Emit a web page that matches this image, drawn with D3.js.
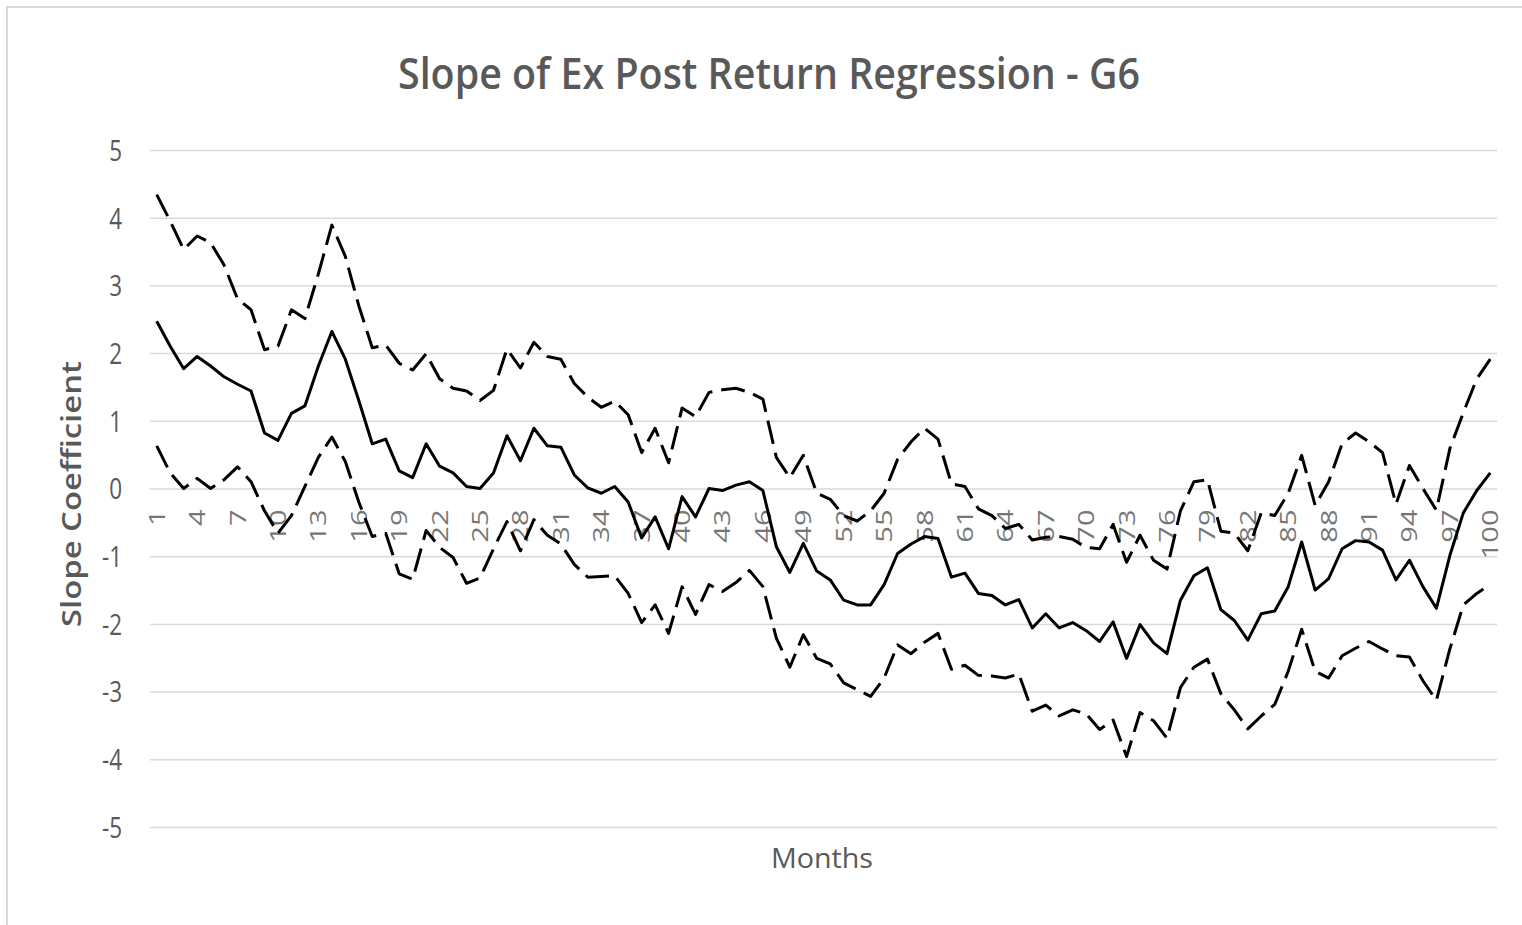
<!DOCTYPE html>
<html>
<head>
<meta charset="utf-8">
<script src="https://cdn.jsdelivr.net/npm/d3@7"></script>
<style>
  body { margin: 0; background: #fff; }
  svg { display: block; font-family: 'Open Sans', sans-serif; }
</style>
</head>
<body>
<svg id="chart" width="1522" height="925"></svg>
<script>
// months on the category axis
const months = d3.range(1, 101);
const tickMonths = months.filter(m => (m - 1) % 3 === 0);
const yTicks = [-5, -4, -3, -2, -1, 0, 1, 2, 3, 4, 5];

// slope estimate (solid)
const slope = [
  2.47, 2.10, 1.77, 1.95, 1.81, 1.65, 1.54, 1.44, 0.82, 0.71,
  1.11, 1.22, 1.81, 2.32, 1.91, 1.30, 0.66, 0.73, 0.26, 0.16,
  0.66, 0.33, 0.23, 0.03, 0.00, 0.23, 0.78, 0.41, 0.89, 0.63,
  0.61, 0.20, 0.01, -0.07, 0.03, -0.20, -0.73, -0.42, -0.89, -0.12,
  -0.42, 0.00, -0.03, 0.05, 0.10, -0.03, -0.86, -1.24, -0.81, -1.22,
  -1.35, -1.65, -1.72, -1.72, -1.42, -0.96, -0.82, -0.71, -0.74, -1.31,
  -1.25, -1.55, -1.58, -1.72, -1.64, -2.06, -1.85, -2.06, -1.98, -2.10,
  -2.26, -1.97, -2.51, -2.01, -2.28, -2.44, -1.65, -1.29, -1.17, -1.79,
  -1.95, -2.24, -1.85, -1.81, -1.45, -0.79, -1.50, -1.33, -0.89, -0.77,
  -0.79, -0.91, -1.35, -1.06, -1.45, -1.77, -0.99, -0.36, -0.03, 0.23
];

// upper band (dashed)
const upper = [
  4.34, 3.95, 3.53, 3.73, 3.63, 3.30, 2.80, 2.64, 2.05, 2.10,
  2.64, 2.51, 3.17, 3.89, 3.43, 2.70, 2.08, 2.12, 1.85, 1.75,
  1.99, 1.62, 1.48, 1.44, 1.30, 1.45, 2.06, 1.78, 2.16, 1.95,
  1.91, 1.55, 1.35, 1.20, 1.29, 1.09, 0.53, 0.89, 0.38, 1.19,
  1.06, 1.42, 1.46, 1.48, 1.42, 1.32, 0.46, 0.16, 0.49, -0.07,
  -0.16, -0.40, -0.48, -0.33, -0.07, 0.43, 0.69, 0.89, 0.73, 0.07,
  0.03, -0.30, -0.40, -0.59, -0.53, -0.76, -0.72, -0.71, -0.75, -0.87,
  -0.89, -0.53, -1.09, -0.69, -1.06, -1.19, -0.33, 0.10, 0.13, -0.63,
  -0.66, -0.92, -0.36, -0.40, -0.07, 0.49, -0.25, 0.10, 0.66, 0.82,
  0.69, 0.53, -0.23, 0.34, 0.00, -0.32, 0.59, 1.12, 1.62, 1.91
];

// lower band (dashed)
const lower = [
  0.63, 0.23, 0.00, 0.15, 0.00, 0.13, 0.32, 0.10, -0.33, -0.66,
  -0.40, 0.03, 0.46, 0.76, 0.40, -0.20, -0.71, -0.66, -1.26, -1.34,
  -0.62, -0.87, -1.02, -1.40, -1.32, -0.89, -0.49, -0.92, -0.46, -0.69,
  -0.82, -1.12, -1.31, -1.30, -1.29, -1.55, -1.98, -1.72, -2.14, -1.45,
  -1.86, -1.42, -1.52, -1.39, -1.21, -1.45, -2.21, -2.64, -2.16, -2.51,
  -2.59, -2.87, -2.97, -3.07, -2.80, -2.31, -2.44, -2.27, -2.14, -2.67,
  -2.61, -2.76, -2.77, -2.80, -2.74, -3.29, -3.20, -3.36, -3.27, -3.33,
  -3.56, -3.42, -3.96, -3.31, -3.43, -3.69, -2.94, -2.64, -2.52, -3.03,
  -3.27, -3.55, -3.36, -3.19, -2.70, -2.08, -2.70, -2.80, -2.47, -2.36,
  -2.26, -2.37, -2.47, -2.49, -2.84, -3.13, -2.37, -1.72, -1.55, -1.42
];

const svg = d3.select('#chart');
const margin = { left: 150, right: 25, top: 150, bottom: 98 },
  width = 1522 - margin.left - margin.right,
  height = 925 - margin.top - margin.bottom;

// outer chart border (only top/left visible in the crop)
svg.append('rect')
  .attr('x', 7).attr('y', 7)
  .attr('width', 1540).attr('height', 950)
  .attr('fill', 'none')
  .attr('stroke', '#d9d9d9')
  .attr('stroke-width', 2);

const g = svg.append('g')
  .attr('transform', `translate(${margin.left},${margin.top})`);

const x = d3.scalePoint()
  .domain(months)
  .range([0, width])
  .padding(0.5);

const y = d3.scaleLinear()
  .domain([-5, 5])
  .range([height, 0]);

// gridlines
const yAxis = g.append('g')
  .call(d3.axisLeft(y).tickValues(yTicks).tickSize(-width).tickFormat(''));
yAxis.select('.domain').remove();
yAxis.selectAll('.tick line')
  .attr('stroke', '#d9d9d9')
  .attr('stroke-width', 1.5);

// y labels, narrow like the source font
g.append('g').selectAll('text').data(yTicks)
  .enter().append('text')
    .attr('transform', d => `translate(-28,${y(d)}) scale(0.75,1)`)
    .attr('dy', '0.36em')
    .attr('text-anchor', 'end')
    .attr('fill', '#595959')
    .style('font-size', '30px')
    .text(d => String(d));

// category labels sit just under the zero line
const xAxis = g.append('g')
  .attr('transform', `translate(0,${y(0)})`);
xAxis.selectAll('text').data(tickMonths)
  .enter().append('text')
    .attr('transform', d => `translate(${x(d) + 8},21) scale(0.78,1) rotate(-90)`)
    .attr('text-anchor', 'end')
    .attr('fill', '#767676')
    .style('font-size', '29px')
    .text(d => d);

const line = d3.line()
  .x((d, i) => x(months[i]))
  .y(d => y(d));

const series = [
  { values: upper, dash: '24,9' },
  { values: lower, dash: '24,9' },
  { values: slope, dash: null }
];

g.selectAll('path.series').data(series)
  .enter().append('path')
    .attr('class', 'series')
    .attr('d', d => line(d.values))
    .attr('fill', 'none')
    .attr('stroke', '#000')
    .attr('stroke-width', 3)
    .attr('stroke-linejoin', 'round')
    .attr('stroke-dasharray', d => d.dash);

// title
svg.append('text')
  .attr('x', 769).attr('y', 89)
  .attr('text-anchor', 'middle')
  .attr('fill', '#595959')
  .attr('textLength', 742)
  .attr('lengthAdjust', 'spacingAndGlyphs')
  .style('font-size', '44px')
  .style('font-weight', 600)
  .text('Slope of Ex Post Return Regression - G6');

// axis titles
svg.append('text')
  .attr('transform', 'translate(81,494) rotate(-90)')
  .attr('text-anchor', 'middle')
  .attr('fill', '#595959')
  .attr('textLength', 266)
  .attr('lengthAdjust', 'spacingAndGlyphs')
  .style('font-size', '27px')
  .style('font-weight', 600)
  .text('Slope Coefficient');

svg.append('text')
  .attr('x', 822).attr('y', 868)
  .attr('text-anchor', 'middle')
  .attr('fill', '#595959')
  .attr('textLength', 102)
  .attr('lengthAdjust', 'spacingAndGlyphs')
  .style('font-size', '28px')
  .text('Months');
</script>
</body>
</html>
